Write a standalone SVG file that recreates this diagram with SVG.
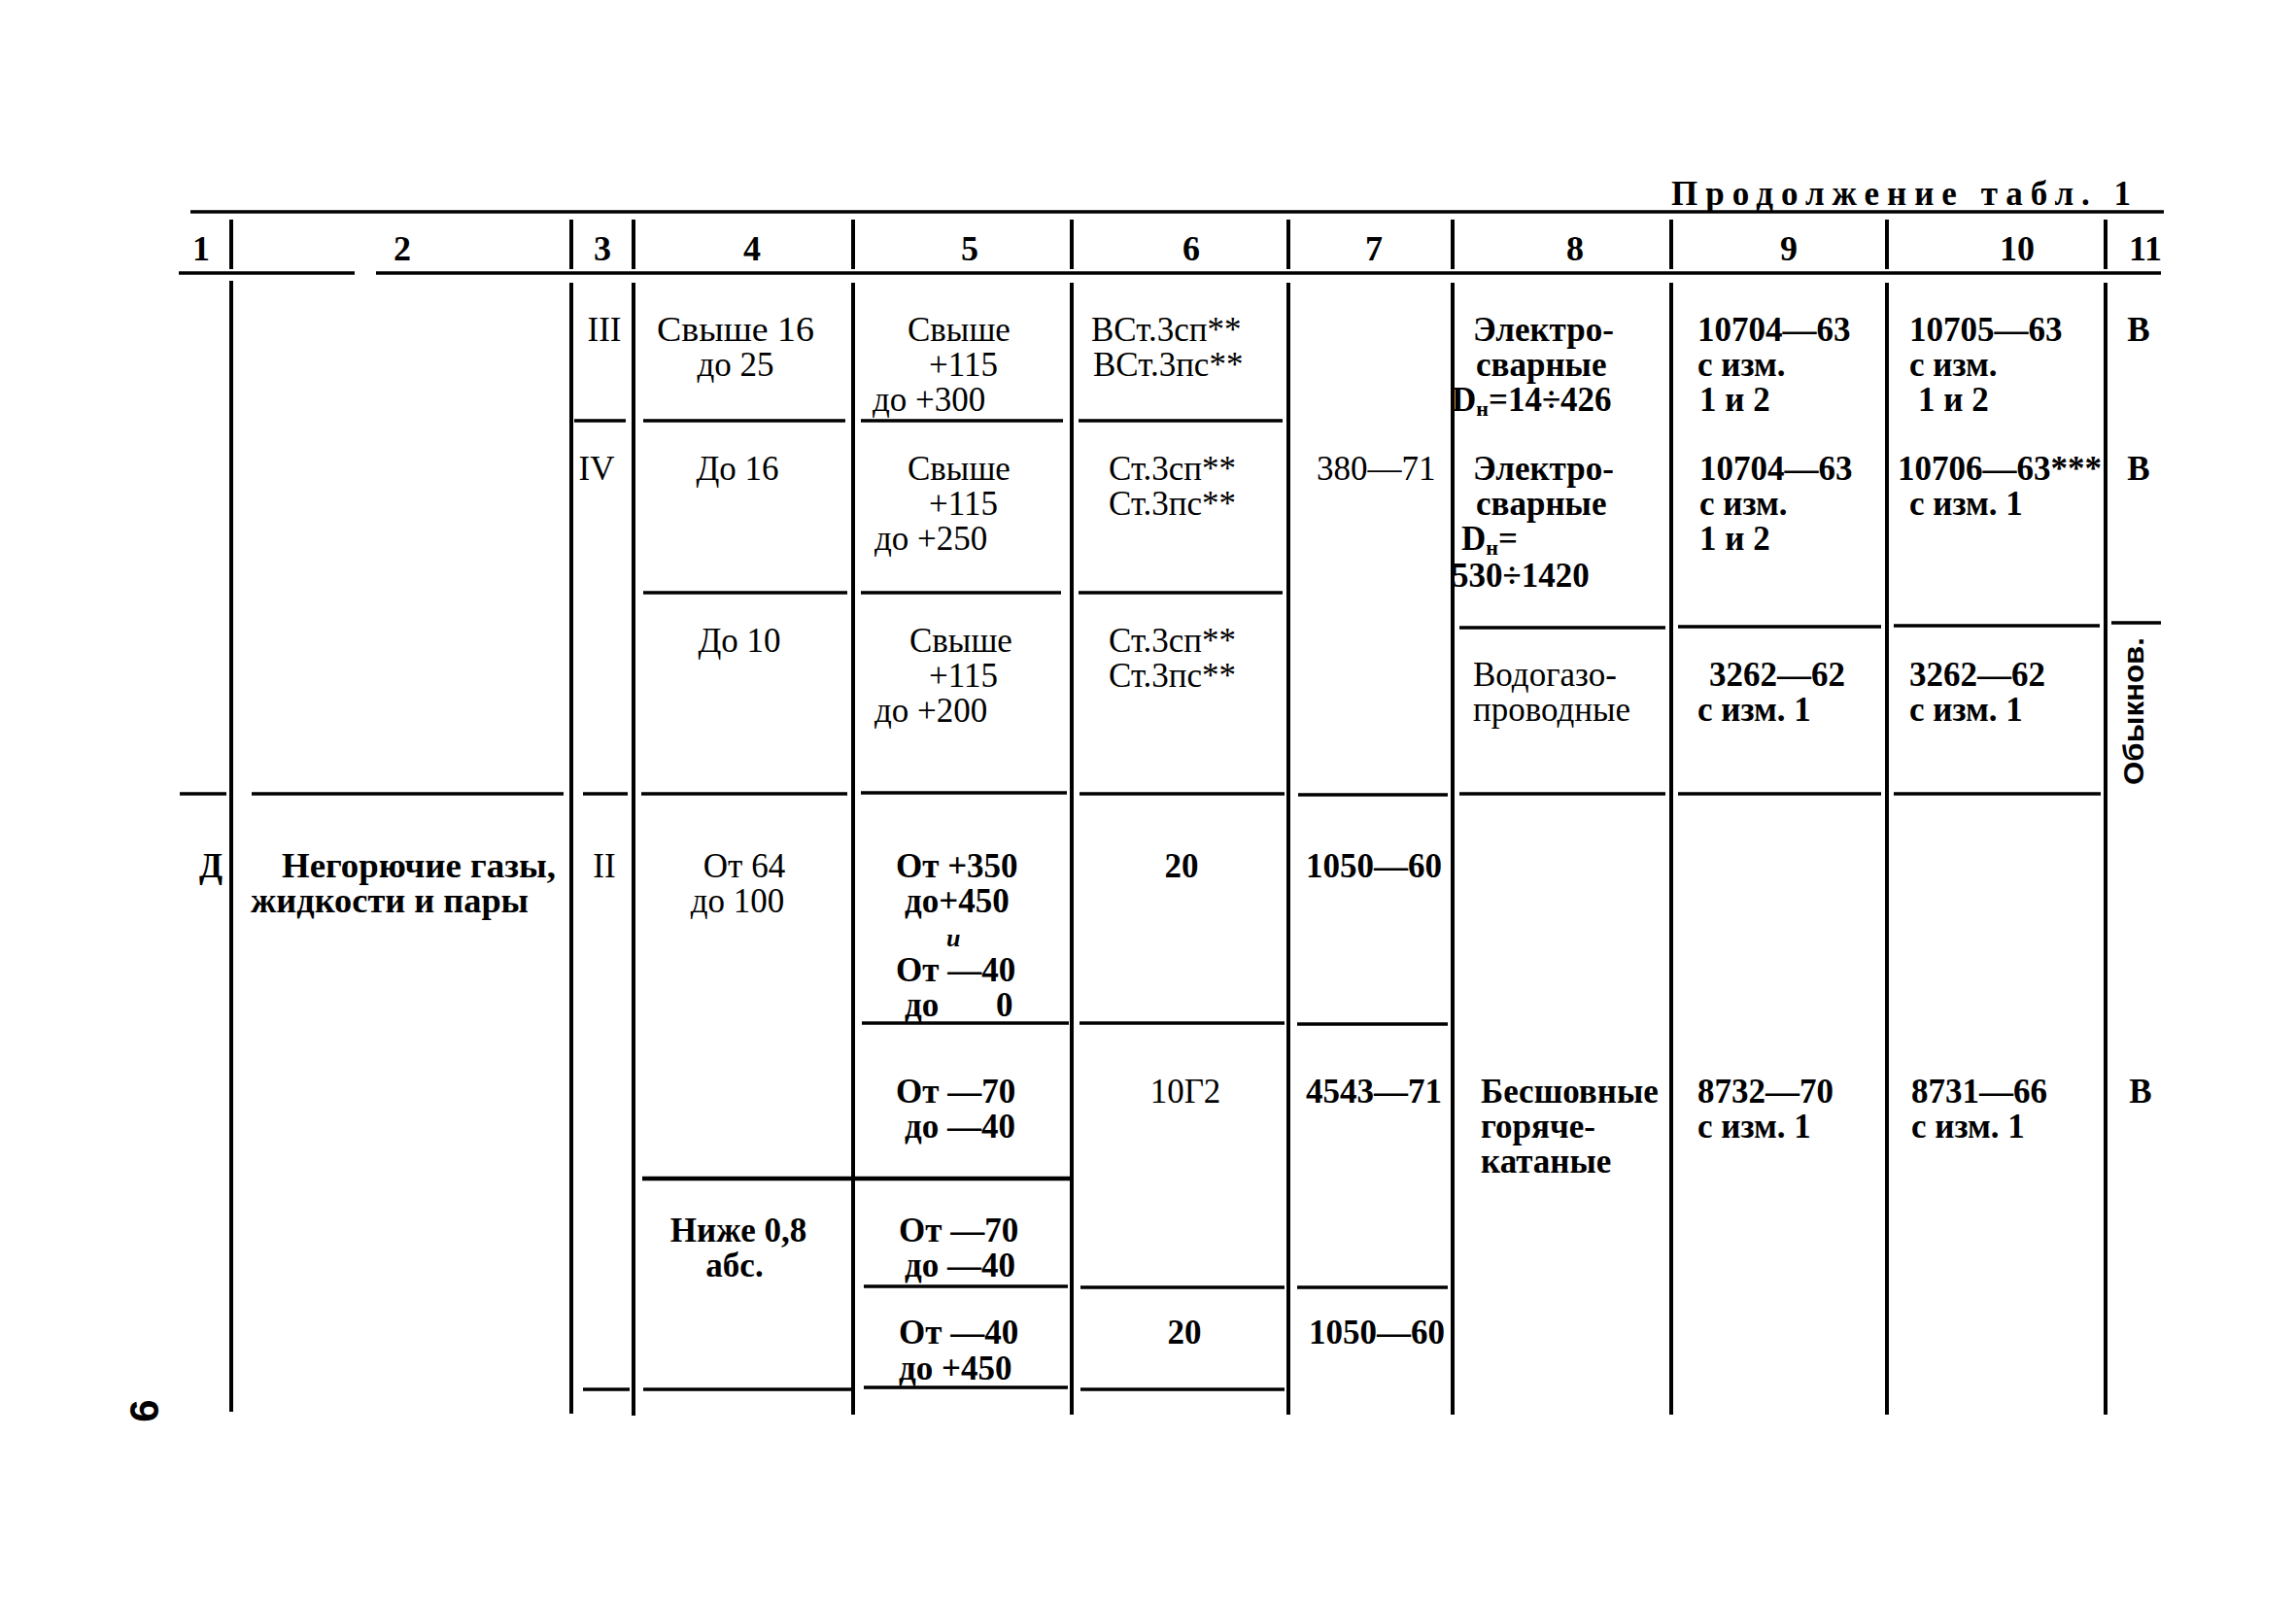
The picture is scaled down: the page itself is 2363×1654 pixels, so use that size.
<svg xmlns="http://www.w3.org/2000/svg" width="2363" height="1654" viewBox="0 0 2363 1654">
<style>
text { font-family: "Liberation Serif", "Times New Roman", serif; font-size: 35px; fill: #000; }
.b { font-weight: bold; }
.m { text-anchor: middle; }
.h { font-weight: bold; text-anchor: middle; font-size: 36px; }
.sans { font-family: "Liberation Sans", Arial, sans-serif; font-weight: bold; }
.grid { stroke: #000; stroke-width: 3.5; fill: none; stroke-linecap: butt; }
.vert { stroke: #000; stroke-width: 4; fill: none; }
</style>
<rect x="0" y="0" width="2363" height="1654" fill="#fff"/>

<g id="connectors">
  <g id="rules" class="grid">
    <path d="M196 218 H2227"/>
    <path d="M184 281 H365 M387 281 H2224"/>
    <path d="M591 433 H644 M662 433 H870 M886 433 H1094 M1110 433 H1320"/>
    <path d="M662 610 H872 M886 610 H1092 M1110 610 H1320"/>
    <path d="M1502 646 H1714 M1727 645 H1936 M1949 644 H2161 M2173 641 H2224"/>
    <path d="M185 817 H233 M259 817 H580 M600 817 H646 M660 817 H872 M886 816 H1098 M1111 817 H1322 M1336 818 H1490 M1502 817 H1714 M1727 817 H1936 M1949 817 H2162"/>
    <path d="M887 1053 H1100 M1111 1053 H1322 M1335 1054 H1490"/>
    <path d="M661 1213 H876 M880 1213 H1105" stroke-width="4.5"/>
    <path d="M889 1324 H1099 M1112 1325 H1322 M1335 1325 H1490"/>
    <path d="M600 1430 H648 M662 1430 H876 M889 1428 H1099 M1112 1430 H1322"/>
  </g>
  <g id="header-verticals" class="vert">
    <path d="M238 226 V277 M588 226 V277 M652 226 V277 M878 226 V277 M1103 226 V277 M1326 226 V277 M1495 226 V277 M1720 226 V277 M1942 226 V277 M2167 226 V277"/>
  </g>
  <g id="body-verticals" class="vert">
    <path d="M238 289 V1453 M588 291 V1455 M652 291 V1457 M878 291 V1456 M1103 291 V1456 M1326 291 V1456 M1495 291 V1456 M1720 291 V1456 M1942 291 V1456 M2167 291 V1456"/>
  </g>
</g>

<g id="title">
  <text class="b" x="1720" y="211" font-size="32" textLength="473" lengthAdjust="spacing">Продолжение табл. 1</text>
</g>

<g id="header">
  <text class="h" x="207" y="268">1</text>
  <text class="h" x="414" y="268">2</text>
  <text class="h" x="620" y="268">3</text>
  <text class="h" x="774" y="268">4</text>
  <text class="h" x="998" y="268">5</text>
  <text class="h" x="1226" y="268">6</text>
  <text class="h" x="1414" y="268">7</text>
  <text class="h" x="1621" y="268">8</text>
  <text class="h" x="1841" y="268">9</text>
  <text class="h" x="2076" y="268">10</text>
  <text class="h" x="2208" y="268">11</text>
</g>

<g id="row-III">
  <text class="m" x="622" y="351">III</text>
  <text class="m" x="757" y="351" textLength="162" lengthAdjust="spacingAndGlyphs">Свыше 16</text>
  <text class="m" x="757" y="387">до 25</text>
  <text x="934" y="351">Свыше</text>
  <text x="956" y="387">+115</text>
  <text x="898" y="423">до +300</text>
  <text x="1123" y="351">ВСт.3сп**</text>
  <text x="1125" y="387">ВСт.3пс**</text>
  <text class="b" x="1516" y="351">Электро-</text>
  <text class="b" x="1519" y="387">сварные</text>
  <text class="b" x="1494" y="423">D<tspan font-size="22" dy="5">н</tspan><tspan dy="-5">=14÷426</tspan></text>
  <text class="b" x="1747" y="351">10704—63</text>
  <text class="b" x="1747" y="387">с изм.</text>
  <text class="b" x="1749" y="423">1 и 2</text>
  <text class="b" x="1965" y="351">10705—63</text>
  <text class="b" x="1965" y="387">с изм.</text>
  <text class="b" x="1974" y="423">1 и 2</text>
  <text class="b m" x="2201" y="351">В</text>
</g>

<g id="row-IV">
  <text class="m" x="614" y="494">IV</text>
  <text class="m" x="759" y="494">До 16</text>
  <text x="934" y="494">Свыше</text>
  <text x="956" y="530">+115</text>
  <text x="900" y="566">до +250</text>
  <text x="1141" y="494">Ст.3сп**</text>
  <text x="1141" y="530">Ст.3пс**</text>
  <text x="1355" y="494">380—71</text>
  <text class="b" x="1516" y="494">Электро-</text>
  <text class="b" x="1519" y="530">сварные</text>
  <text class="b" x="1504" y="566">D<tspan font-size="22" dy="5">н</tspan><tspan dy="-5">=</tspan></text>
  <text class="b" x="1494" y="604">530÷1420</text>
  <text class="b" x="1749" y="494">10704—63</text>
  <text class="b" x="1749" y="530">с изм.</text>
  <text class="b" x="1749" y="566">1 и 2</text>
  <text class="b" x="1953" y="494">10706—63***</text>
  <text class="b" x="1965" y="530">с изм. 1</text>
  <text class="b m" x="2201" y="494">В</text>
</g>

<g id="row-IV-b">
  <text class="m" x="761" y="671">До 10</text>
  <text x="936" y="671">Свыше</text>
  <text x="956" y="707">+115</text>
  <text x="900" y="743">до +200</text>
  <text x="1141" y="671">Ст.3сп**</text>
  <text x="1141" y="707">Ст.3пс**</text>
  <text x="1516" y="706">Водогазо-</text>
  <text x="1516" y="742">проводные</text>
  <text class="b" x="1759" y="706">3262—62</text>
  <text class="b" x="1747" y="742">с изм. 1</text>
  <text class="b" x="1965" y="706">3262—62</text>
  <text class="b" x="1965" y="742">с изм. 1</text>
  <text class="sans m" transform="translate(2196 732) rotate(-90)" x="0" y="10" style="font-size:29px" textLength="152" lengthAdjust="spacingAndGlyphs">Обыкнов.</text>
</g>

<g id="row-D">
  <text class="b m" x="217" y="903">Д</text>
  <text class="b" x="290" y="903" textLength="282" lengthAdjust="spacingAndGlyphs">Негорючие газы,</text>
  <text class="b" x="258" y="939" textLength="286" lengthAdjust="spacingAndGlyphs">жидкости и пары</text>
  <text class="m" x="622" y="903">II</text>
  <text class="m" x="766" y="903">От 64</text>
  <text class="m" x="759" y="939">до 100</text>
  <text class="b" x="922" y="903">От +350</text>
  <text class="b" x="931" y="939">до+450</text>
  <text class="b" x="974" y="974" style="font-size:26px;font-style:italic">и</text>
  <text class="b" x="922" y="1010">От —40</text>
  <text class="b" x="931" y="1046">до</text>
  <text class="b" x="1025" y="1046">0</text>
  <text class="b m" x="1216" y="903">20</text>
  <text class="b" x="1344" y="903">1050—60</text>
</g>

<g id="row-D-2">
  <text class="b" x="922" y="1135">От —70</text>
  <text class="b" x="931" y="1171">до —40</text>
  <text class="m" x="1220" y="1135">10Г2</text>
  <text class="b" x="1344" y="1135">4543—71</text>
  <text class="b" x="1524" y="1135">Бесшовные</text>
  <text class="b" x="1524" y="1171">горяче-</text>
  <text class="b" x="1524" y="1207">катаные</text>
  <text class="b" x="1747" y="1135">8732—70</text>
  <text class="b" x="1747" y="1171">с изм. 1</text>
  <text class="b" x="1967" y="1135">8731—66</text>
  <text class="b" x="1967" y="1171">с изм. 1</text>
  <text class="b m" x="2203" y="1135">В</text>
</g>

<g id="row-D-3">
  <text class="b m" x="760" y="1278">Ниже 0,8</text>
  <text class="b m" x="756" y="1314">абс.</text>
  <text class="b" x="925" y="1278">От —70</text>
  <text class="b" x="931" y="1314">до —40</text>
</g>

<g id="row-D-4">
  <text class="b" x="925" y="1383">От —40</text>
  <text class="b" x="925" y="1420">до +450</text>
  <text class="b m" x="1219" y="1383">20</text>
  <text class="b" x="1347" y="1383">1050—60</text>
</g>

<g id="page-number">
  <text class="sans m" transform="translate(148 1452) rotate(-90)" x="0" y="15" style="font-size:42px">6</text>
</g>
</svg>
